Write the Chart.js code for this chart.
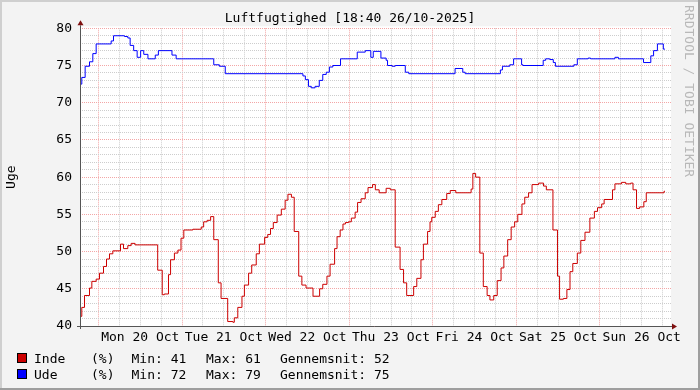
<!DOCTYPE html>
<html>
<head>
<meta charset="utf-8">
<title>Luftfugtighed</title>
<script src="https://cdn.jsdelivr.net/npm/chart.js@4/dist/chart.umd.min.js"></script>
<style>
  html, body { margin: 0; padding: 0; background: #f3f3f3; }
  canvas { display: block; }
</style>
</head>
<body>
<canvas id="graph" width="700" height="390"></canvas>
<script>
const MONO = "'DejaVu Sans Mono', 'Liberation Mono', monospace";
const GRAY = '#cdcdcd';
const PINK = '#f3a6a6';

const title = 'Luftfugtighed [18:40 26/10-2025]';
const yTitle = 'Uge';
const watermark = 'RRDTOOL / TOBI OETIKER';

// x is hours after Mon 20 Oct 00:00; graph covers Sun 18:40 .. Sun 18:40
const xStart = -5.31;
const xEnd = 164.4;
const dayNoons = [12, 36, 60, 84, 108, 132, 156];
const dayLabels = ['Mon 20 Oct', 'Tue 21 Oct', 'Wed 22 Oct', 'Thu 23 Oct',
                   'Fri 24 Oct', 'Sat 25 Oct', 'Sun 26 Oct'];

// Inde (indoor) - step points
const indeHours = [-5.31, -4.79, -4.02, -2.58, -1.91, -0.67, 0.29, 1.44, 2.30, 3.16,
  4.12, 6.32, 7.18, 8.42, 9.38, 10.5, 17.0, 18.3, 18.9, 20.1,
  20.7, 21.8, 22.8, 23.7, 24.5, 27.1, 29.5, 30.2, 31.2, 32.2,
  33.1, 34.4, 35.2, 37.1, 38.6, 39.0, 40.0, 41.2, 41.9, 43.1,
  44.0, 45.3, 46.2, 47.7, 48.6, 49.4, 50.2, 51.3, 52.5, 53.6,
  54.4, 55.4, 56.2, 57.5, 58.4, 59.6, 61.6, 63.5, 64.4, 65.6,
  66.5, 67.8, 68.5, 69.4, 70.2, 70.9, 71.8, 72.6, 73.7, 74.4,
  75.4, 76.6, 77.4, 78.7, 79.5, 80.6, 82.6, 83.8, 85.2, 86.6,
  87.6, 88.5, 90.5, 91.4, 92.6, 93.3, 94.5, 95.2, 95.7, 96.7,
  97.6, 98.6, 100.0, 101.0, 102.6, 107.0, 107.5, 108.3, 109.5, 110.5,
  111.6, 112.4, 113.5, 114.5, 115.6, 116.4, 117.5, 118.5, 119.5, 120.4,
  121.6, 122.4, 123.5, 124.5, 126.4, 127.8, 128.6, 130.5, 131.8, 132.4,
  133.5, 134.5, 135.4, 136.2, 137.5, 138.5, 139.7, 141.1, 142.4, 143.3,
  144.5, 145.2, 147.6, 148.3, 150.2, 151.4, 152.8, 153.5, 154.5, 155.4,
  156.6, 157.3, 162.4, 162.67];
const indeValues = [41.3, 42.5, 44.1, 45.1, 46.0, 46.3, 47.1, 48.0, 49.0, 49.7,
  50.1, 51.0, 50.4, 50.8, 51.1, 50.9, 47.5, 44.2, 44.3, 46.9,
  48.9, 49.8, 50.2, 51.8, 52.9, 53.0, 53.3, 54.0, 54.2, 54.7,
  51.6, 45.8, 43.7, 40.6, 40.5, 41.1, 42.5, 44.0, 45.5, 47.1,
  48.2, 49.7, 51.0, 51.9, 52.3, 53.1, 53.9, 54.9, 55.7, 56.9,
  57.7, 57.3, 52.7, 46.7, 45.5, 45.1, 44.0, 45.0, 45.6, 46.7,
  48.3, 50.4, 52.0, 52.9, 53.7, 53.9, 54.0, 54.5, 55.3, 56.6,
  57.1, 57.9, 58.6, 59.0, 58.3, 57.9, 58.5, 58.3, 50.6, 47.6,
  45.8, 44.1, 45.3, 46.4, 48.9, 51.0, 52.7, 54.0, 54.6, 55.4,
  56.3, 57.0, 57.8, 58.2, 57.9, 58.4, 60.5, 60.0, 49.8, 45.3,
  44.1, 43.5, 44.1, 46.1, 47.8, 49.4, 51.6, 53.3, 54.0, 55.0,
  56.4, 57.3, 57.9, 59.0, 59.2, 58.8, 58.3, 52.9, 46.7, 43.6,
  43.7, 44.9, 47.3, 48.4, 49.8, 51.5, 52.6, 54.5, 55.4, 55.9,
  56.4, 57.0, 58.3, 59.1, 59.3, 59.1, 59.2, 58.3, 55.8, 56.0,
  56.7, 57.9, 58.1, 58.1];

// Ude (outdoor)
const udeHours = [-5.31, -4.79, -3.83, -2.58, -1.63, -0.67, 3.64, 4.31, 7.46, 8.42,
  9.09, 10.1, 11.1, 12.1, 13.0, 14.2, 16.3, 17.2, 21.1, 22.3,
  33.1, 34.7, 36.4, 58.7, 59.4, 60.3, 61.1, 62.2, 63.4, 64.4,
  65.4, 66.3, 67.3, 69.5, 74.3, 76.6, 78.2, 78.9, 81.1, 82.6,
  83.0, 84.3, 85.2, 88.1, 89.1, 102.4, 104.6, 105.3, 115.4, 116.0,
  118.1, 119.2, 121.5, 121.9, 127.7, 128.4, 129.6, 130.6, 131.2, 136.5,
  137.5, 140.6, 141.3, 148.3, 149.3, 156.5, 158.6, 159.4, 160.5, 162.2,
  162.67];
const udeValues = [72.5, 73.4, 74.9, 75.5, 76.6, 77.9, 78.3, 79.0, 78.9, 78.7,
  77.7, 77.0, 76.1, 77.0, 76.5, 75.9, 76.4, 77.0, 76.4, 75.9,
  75.1, 74.9, 73.9, 73.6, 73.1, 72.2, 72.0, 72.2, 73.0, 73.8,
  74.1, 74.8, 75.0, 75.9, 76.8, 77.0, 76.1, 76.9, 76.0, 75.7,
  75.0, 74.9, 75.0, 74.1, 73.9, 74.6, 74.1, 73.9, 74.4, 74.9,
  75.1, 75.9, 75.1, 75.0, 75.7, 75.9, 75.8, 75.4, 74.9, 75.1,
  75.9, 76.0, 75.9, 76.1, 75.9, 75.4, 76.3, 77.0, 77.9, 77.2,
  77.2];

// legend figures
const seriesNames = ['Inde', 'Ude'];
const seriesColors = ['#cc0000', '#0000ff'];
const seriesMin = [41, 72];
const seriesMax = [61, 79];
const seriesAvg = [52, 75];

function points(hours, values) {
  return hours.map((h, i) => ({x: h, y: values[i]}));
}

const rrdLook = {
  id: 'rrdLook',
  beforeDraw(chart) {
    const c = chart.ctx, a = chart.chartArea;
    const W = chart.width, H = chart.height;
    c.save();
    c.fillStyle = '#f3f3f3';
    c.fillRect(0, 0, W, H);
    c.fillStyle = '#cfcfcf';
    c.fillRect(0, 0, W, 2);
    c.fillRect(0, 0, 2, H);
    c.fillStyle = '#9e9e9e';
    c.fillRect(0, H - 2, W, 2);
    c.fillRect(W - 2, 0, 2, H);
    c.fillStyle = '#ffffff';
    c.fillRect(a.left, a.top - 2, a.right - a.left, a.bottom - a.top + 2);
    c.restore();
  },
  afterDraw(chart) {
    const c = chart.ctx, a = chart.chartArea;
    c.save();
    // axes with arrows
    c.strokeStyle = '#555555';
    c.lineWidth = 1;
    c.beginPath();
    c.moveTo(a.left - 3, a.bottom + 0.5);
    c.lineTo(a.right + 1, a.bottom + 0.5);
    c.moveTo(a.left + 0.5, a.bottom + 3);
    c.lineTo(a.left + 0.5, a.top - 3);
    c.stroke();
    c.fillStyle = '#7f1010';
    c.beginPath();
    c.moveTo(a.right + 6, a.bottom + 0.5);
    c.lineTo(a.right + 1, a.bottom - 2.5);
    c.lineTo(a.right + 1, a.bottom + 3.5);
    c.closePath();
    c.fill();
    c.beginPath();
    c.moveTo(a.left + 0.5, a.top - 8);
    c.lineTo(a.left - 2.5, a.top - 3);
    c.lineTo(a.left + 3.5, a.top - 3);
    c.closePath();
    c.fill();

    // watermark
    c.font = '13px ' + MONO;
    c.fillStyle = '#b8b8b8';
    c.textBaseline = 'middle';
    c.textAlign = 'left';
    c.translate(688, 5);
    c.rotate(Math.PI / 2);
    c.fillText(watermark, 0, 0);
    c.setTransform(1, 0, 0, 1, 0, 0);

    // legend
    c.font = '13px ' + MONO;
    c.fillStyle = '#000';
    c.textBaseline = 'alphabetic';
    const cols = [34, 91, 131.5, 206, 280];
    seriesNames.forEach((name, i) => {
      const base = 363 + i * 16;
      c.fillStyle = seriesColors[i];
      c.fillRect(17, base - 10, 10, 10);
      c.strokeStyle = '#000';
      c.strokeRect(17.5, base - 9.5, 9, 9);
      c.fillStyle = '#000';
      const parts = [name, '(%)', 'Min: ' + seriesMin[i], 'Max: ' + seriesMax[i],
                     'Gennemsnit: ' + seriesAvg[i]];
      parts.forEach((t, k) => c.fillText(t, cols[k], base));
    });
    c.restore();
  }
};

Chart.defaults.font.family = MONO;
Chart.defaults.font.size = 13;
Chart.defaults.color = '#000';

new Chart(document.getElementById('graph'), {
  type: 'line',
  data: {
    datasets: [
      {
        label: seriesNames[0],
        data: points(indeHours, indeValues),
        borderColor: seriesColors[0],
        borderWidth: 1,
        pointRadius: 0,
        stepped: 'before'
      },
      {
        label: seriesNames[1],
        data: points(udeHours, udeValues),
        borderColor: seriesColors[1],
        borderWidth: 1,
        pointRadius: 0,
        stepped: 'before'
      }
    ]
  },
  options: {
    responsive: false,
    animation: false,
    devicePixelRatio: 1,
    layout: {padding: 0},
    plugins: {
      legend: {display: false},
      tooltip: {enabled: false},
      title: {
        display: true,
        text: title,
        color: '#000',
        font: {size: 13, weight: 'normal'},
        padding: {top: 11, bottom: 1.7}
      }
    },
    scales: {
      x: {
        type: 'linear',
        min: xStart,
        max: xEnd,
        afterBuildTicks(scale) {
          const t = [];
          for (let h = 0; h <= 162; h += 6) t.push({value: h});
          scale.ticks = t;
        },
        afterFit(scale) { scale.height = 64; },
        ticks: {
          autoSkip: false,
          maxRotation: 0,
          padding: 4,
          callback(v) {
            const i = dayNoons.indexOf(v);
            return i < 0 ? '' : dayLabels[i];
          }
        },
        grid: {
          drawTicks: false,
          color: (ctx) => (ctx.tick && ctx.tick.value % 24 === 0) ? PINK : GRAY
        },
        border: {display: false, dash: [1, 1]}
      },
      y: {
        min: 40,
        max: 80,
        afterBuildTicks(scale) {
          const t = [];
          for (let v = 40; v <= 80; v += 1) t.push({value: v});
          scale.ticks = t;
        },
        afterFit(scale) { scale.width = 80; },
        ticks: {
          autoSkip: false,
          padding: 8,
          callback: (v) => (v % 5 === 0 ? String(v) : '')
        },
        grid: {
          drawTicks: false,
          color: (ctx) => (ctx.tick && ctx.tick.value % 5 === 0) ? PINK : GRAY
        },
        border: {display: false, dash: [1, 1]},
        title: {
          display: true,
          text: yTitle,
          color: '#000',
          font: {size: 13},
          padding: {top: 4, bottom: 0}
        }
      },
      // empty strip on the right where the watermark sits
      side: {
        position: 'right',
        min: 40,
        max: 80,
        afterFit(scale) { scale.width = 29; },
        ticks: {display: false},
        grid: {display: false},
        border: {display: false}
      }
    }
  },
  plugins: [rrdLook]
});
</script>
</body>
</html>
